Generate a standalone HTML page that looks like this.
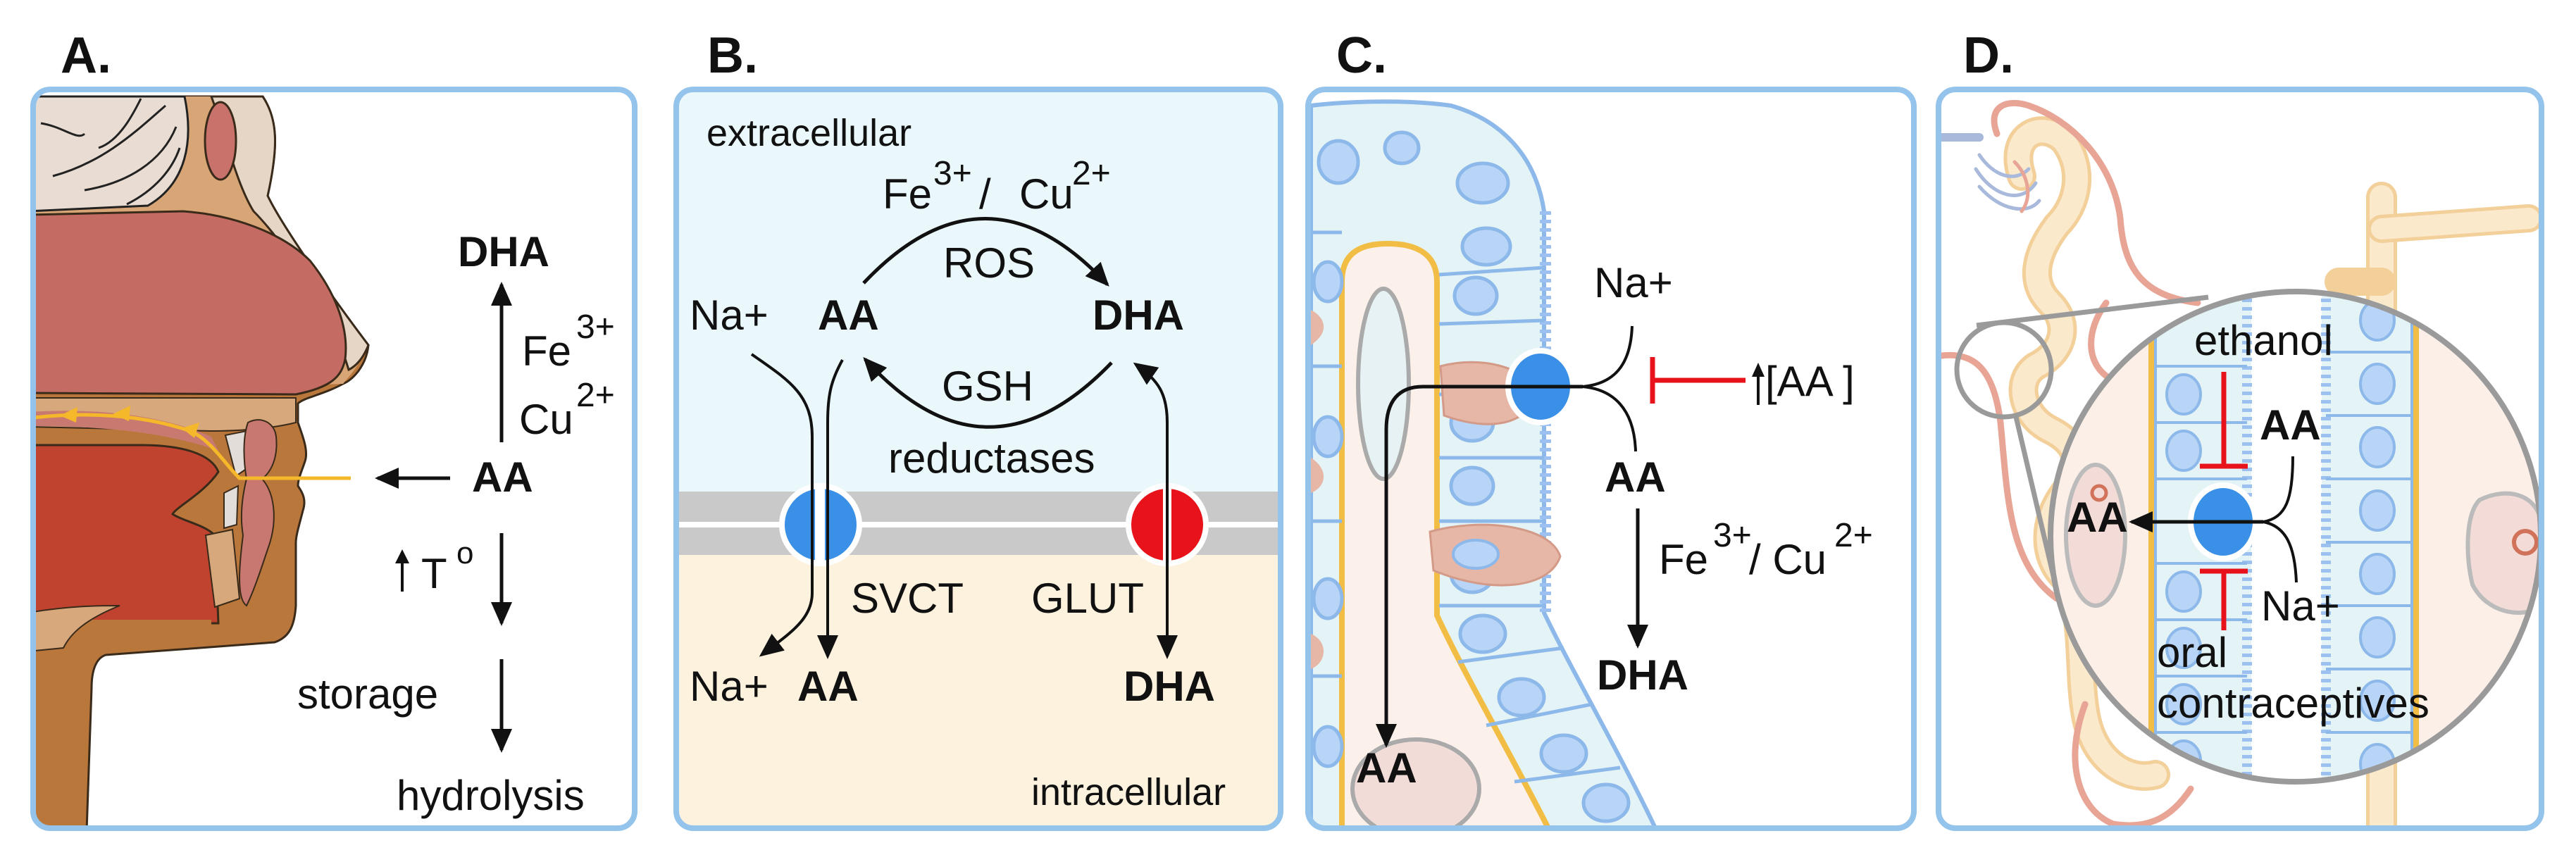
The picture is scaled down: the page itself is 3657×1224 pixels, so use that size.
<!DOCTYPE html>
<html><head><meta charset="utf-8"><style>
html,body{margin:0;padding:0;background:#fff}
svg{display:block}
text{font-family:"Liberation Sans",Arial,sans-serif;fill:#111}
.b{font-weight:bold}
</style></head><body>
<svg width="3657" height="1224" viewBox="0 0 3657 1224" xmlns="http://www.w3.org/2000/svg">
<defs>
<marker id="ah" markerUnits="userSpaceOnUse" markerWidth="34" markerHeight="30" refX="30" refY="15" orient="auto"><path d="M0,0 L34,15 L0,30 Z" fill="#111"/></marker>
<marker id="ahs" markerUnits="userSpaceOnUse" markerWidth="34" markerHeight="30" refX="4" refY="15" orient="auto"><path d="M34,0 L0,15 L34,30 Z" fill="#111"/></marker>
<clipPath id="cA"><rect x="47" y="127" width="854" height="1049" rx="22"/></clipPath>
<clipPath id="cC"><rect x="1861" y="127" width="852" height="1049" rx="22"/></clipPath>
<clipPath id="cD"><rect x="2756" y="127" width="848" height="1049" rx="22"/></clipPath>
<clipPath id="cir"><circle cx="3259" cy="762" r="348"/></clipPath>
</defs>

<!-- labels -->
<text x="86" y="103" class="b" font-size="72">A.</text>
<text x="1004" y="103" class="b" font-size="72">B.</text>
<text x="1897" y="103" class="b" font-size="72">C.</text>
<text x="2787" y="103" class="b" font-size="72">D.</text>

<!-- ===== Panel A ===== -->
<g clip-path="url(#cA)">
<path d="M40,137 L373,137 C395,170 395,210 380,278 C400,320 470,420 523,490 C520,520 500,540 487,545 C460,560 430,565 423,573 L423,600 C430,620 438,640 433,655 C428,670 423,680 423,690 C430,700 435,710 430,725 C425,745 420,760 420,771 L420,860 C418,890 410,905 390,912 L150,930 C135,935 130,955 130,977 L123,1180 L40,1180 Z" fill="#b9773c" stroke="#3a2a1a" stroke-width="3"/>
<path d="M40,137 L373,137 C395,170 395,210 380,278 C400,320 470,420 523,490 C510,520 495,535 487,545 L40,560 Z" fill="#d8a576"/>
<path d="M300,137 L373,137 C395,170 395,210 380,278 C400,320 470,420 523,490 C515,510 505,520 495,525 C470,440 400,340 360,300 C335,260 320,190 300,137 Z" fill="#e6d6c6" stroke="#3a2a1a" stroke-width="3"/>
<path d="M40,137 L262,137 C275,200 265,260 210,292 L40,300 Z" fill="#e9ddd3" stroke="#222" stroke-width="3"/>
<path d="M58,175 C90,180 110,200 120,190 M75,250 C150,230 200,180 235,150 M140,210 C170,200 190,160 200,140 M120,270 C180,260 230,230 250,180 M180,290 C220,270 245,240 255,210" stroke="#222" stroke-width="3" fill="none"/>
<ellipse cx="313" cy="200" rx="22" ry="55" fill="#c9726c" stroke="#3a2a1a" stroke-width="3"/>
<path d="M40,305 L260,300 C330,305 400,330 440,370 C480,420 495,470 490,510 C485,535 470,550 420,560 L40,558 Z" fill="#c46b64" stroke="#3a2a1a" stroke-width="3"/>
<path d="M40,565 L420,565 L420,600 C380,610 330,612 300,612 L40,606 Z" fill="#d6a87c" stroke="#3a2a1a" stroke-width="2"/>
<path d="M40,585 C120,580 220,585 300,620 L310,640 C230,612 140,605 40,605 Z" fill="#c87a70"/>
<path d="M40,632 L200,632 C260,632 300,645 310,670 C290,700 250,720 245,730 C260,740 290,745 305,760 L310,885 L40,885 Z" fill="#c0432f" stroke="#3a2a1a" stroke-width="3"/>
<path d="M40,880 L300,880 L300,900 L110,920 L70,960 L40,940 Z" fill="#b9773c"/>
<path d="M40,870 C100,860 140,860 170,860 C120,880 100,900 90,920 L40,925 Z" fill="#d6a87c" stroke="#3a2a1a" stroke-width="2"/>
<path d="M320,618 L350,612 L358,660 L335,676 Z" fill="#e2ddd8" stroke="#3a2a1a" stroke-width="2"/>
<path d="M318,700 L338,690 L336,745 L318,750 Z" fill="#e2ddd8" stroke="#3a2a1a" stroke-width="2"/>
<path d="M292,760 L330,752 L340,850 L305,862 Z" fill="#d6a87c" stroke="#3a2a1a" stroke-width="2"/>
<path d="M352,600 C370,590 390,600 392,620 C395,650 385,670 372,680 C390,700 395,740 380,780 C370,810 360,840 350,860 C335,850 340,800 345,760 C340,730 345,700 350,680 C345,650 345,620 352,600 Z" fill="#c87870" stroke="#3a2a1a" stroke-width="2"/>
<path d="M47,593 C120,585 200,588 270,612 C300,625 320,660 340,679 L498,679" stroke="#f5b82a" stroke-width="5" fill="none"/>
<path d="M85,590 L110,578 L108,600 Z M160,588 L185,576 L183,598 Z M258,608 L283,600 L276,622 Z" fill="#f5b82a"/>
</g>
<rect x="47" y="127" width="854" height="1049" rx="24" fill="none" stroke="#94c4ec" stroke-width="8"/>

<text x="650" y="378" class="b" font-size="60">DHA</text>
<line x1="712" y1="628" x2="712" y2="404" stroke="#111" stroke-width="5" marker-end="url(#ah)"/>
<text x="741" y="519" font-size="60">Fe</text><text x="818" y="480" font-size="48">3+</text>
<text x="737" y="616" font-size="60">Cu</text><text x="818" y="577" font-size="48">2+</text>
<line x1="639" y1="679" x2="536" y2="679" stroke="#111" stroke-width="5" marker-end="url(#ah)"/>
<text x="670" y="698" class="b" font-size="60">AA</text>
<line x1="712" y1="757" x2="712" y2="885" stroke="#111" stroke-width="5" marker-end="url(#ah)"/>
<line x1="571" y1="840" x2="571" y2="795" stroke="#111" stroke-width="4"/>
<path d="M561,800 L571,780 L581,800 Z" fill="#111"/>
<text x="598" y="835" font-size="60">T</text><text x="648" y="800" font-size="44">o</text>
<text x="422" y="1006" font-size="60">storage</text>
<line x1="712" y1="936" x2="712" y2="1065" stroke="#111" stroke-width="5" marker-end="url(#ah)"/>
<text x="563" y="1150" font-size="60">hydrolysis</text>

<!-- ===== Panel B ===== -->
<rect x="964" y="127" width="850" height="1049" rx="22" fill="#eaf8fc"/>
<path d="M964,698 L1814,698 L1814,1154 Q1814,1176 1792,1176 L986,1176 Q964,1176 964,1154 Z" fill="#fdf2de"/>
<rect x="964" y="698" width="850" height="90" fill="#c9c9c9"/>
<rect x="964" y="741" width="850" height="8" fill="#fff"/>
<rect x="960" y="127" width="858" height="1049" rx="24" fill="none" stroke="#94c4ec" stroke-width="8"/>
<circle cx="1165" cy="745" r="55" fill="#3a8fe6" stroke="#fff" stroke-width="8"/>
<rect x="1157" y="690" width="14" height="110" fill="#fff"/>
<circle cx="1657" cy="745" r="55" fill="#e8131a" stroke="#fff" stroke-width="8"/>
<rect x="1651" y="690" width="12" height="110" fill="#fff"/>

<text x="1003" y="207" font-size="54">extracellular</text>
<text x="1253" y="296" font-size="60">Fe</text><text x="1325" y="262" font-size="48">3+</text>
<text x="1390" y="296" font-size="60">/</text><text x="1447" y="296" font-size="60">Cu</text><text x="1522" y="262" font-size="48">2+</text>
<path d="M1226,402 Q1400,218 1572,404" stroke="#111" stroke-width="5" fill="none" marker-end="url(#ah)"/>
<text x="1404" y="394" font-size="60" text-anchor="middle">ROS</text>
<text x="979" y="468" font-size="60">Na+</text>
<text x="1161" y="468" class="b" font-size="60">AA</text>
<text x="1551" y="468" class="b" font-size="60">DHA</text>
<path d="M1578,515 Q1400,700 1228,510" stroke="#111" stroke-width="5" fill="none" marker-end="url(#ah)"/>
<text x="1402" y="569" font-size="60" text-anchor="middle">GSH</text>
<text x="1261" y="671" font-size="60">reductases</text>
<path d="M1067,503 C1120,540 1153,560 1153,620 L1153,842 C1153,880 1120,900 1081,930" stroke="#111" stroke-width="4" fill="none" marker-end="url(#ah)"/>
<path d="M1196,511 C1180,540 1175,560 1175,600 L1175,932" stroke="#111" stroke-width="4" fill="none" marker-end="url(#ah)"/>
<path d="M1657,932 L1657,600 C1657,560 1645,540 1612,517" stroke="#111" stroke-width="4" fill="none" marker-end="url(#ah)" marker-start="url(#ahs)"/>
<text x="1208" y="870" font-size="60">SVCT</text>
<text x="1464" y="870" font-size="60">GLUT</text>
<text x="979" y="995" font-size="60">Na+</text>
<text x="1132" y="995" class="b" font-size="60">AA</text>
<text x="1595" y="995" class="b" font-size="60">DHA</text>
<text x="1464" y="1143" font-size="54">intracellular</text>

<!-- ===== Panel C ===== -->
<g clip-path="url(#cC)">
<path d="M1861,150 C1900,145 1990,140 2060,150 C2130,170 2180,220 2192,300 L2192,870 C2230,950 2300,1070 2352,1180 L1861,1180 Z" fill="#e4f3f6" stroke="#8db8ea" stroke-width="6"/>
<line x1="2194" y1="300" x2="2194" y2="870" stroke="#9cc0ef" stroke-width="16" stroke-dasharray="5 7"/>
<path d="M1905,1180 L1905,400 C1905,360 1930,346 1970,346 C2010,346 2040,360 2040,400 L2040,874 C2080,960 2150,1080 2200,1180 Z" fill="#fbf0ea" stroke="#f2bd45" stroke-width="8"/>
<g fill="#b8d4f6" stroke="#8db8ea" stroke-width="5">
<ellipse cx="2105" cy="260" rx="36" ry="28"/><ellipse cx="2110" cy="350" rx="34" ry="26"/><ellipse cx="2095" cy="420" rx="30" ry="26"/>
<ellipse cx="2090" cy="600" rx="30" ry="26"/><ellipse cx="2090" cy="690" rx="30" ry="26"/><ellipse cx="2090" cy="815" rx="30" ry="26"/>
<ellipse cx="2105" cy="900" rx="32" ry="26"/><ellipse cx="2160" cy="990" rx="32" ry="26"/><ellipse cx="2220" cy="1070" rx="32" ry="26"/>
<ellipse cx="2280" cy="1140" rx="32" ry="26"/><ellipse cx="1900" cy="230" rx="28" ry="30"/><ellipse cx="1990" cy="210" rx="24" ry="22"/>
<ellipse cx="1885" cy="400" rx="20" ry="28"/><ellipse cx="1885" cy="620" rx="20" ry="28"/><ellipse cx="1885" cy="850" rx="20" ry="28"/><ellipse cx="1885" cy="1060" rx="20" ry="28"/>
</g>
<g stroke="#8db8ea" stroke-width="5">
<line x1="2043" y1="390" x2="2192" y2="380"/><line x1="2043" y1="460" x2="2192" y2="455"/><line x1="2043" y1="560" x2="2192" y2="560"/>
<line x1="2043" y1="650" x2="2192" y2="650"/><line x1="2043" y1="740" x2="2192" y2="740"/><line x1="2043" y1="860" x2="2192" y2="860"/>
<line x1="2070" y1="940" x2="2220" y2="920"/><line x1="2110" y1="1030" x2="2260" y2="1000"/><line x1="2150" y1="1110" x2="2300" y2="1090"/>
<line x1="1861" y1="330" x2="1905" y2="330"/><line x1="1861" y1="520" x2="1905" y2="520"/><line x1="1861" y1="740" x2="1905" y2="740"/><line x1="1861" y1="960" x2="1905" y2="960"/>
</g>
<ellipse cx="1964" cy="545" rx="36" ry="135" fill="#e6f2f4" stroke="#aaa" stroke-width="6"/>
<path d="M2045,520 C2100,505 2170,520 2180,560 C2170,600 2120,615 2050,590 Z" fill="#e6b6a6" stroke="#d49a88" stroke-width="3"/>
<path d="M2030,755 C2100,735 2200,745 2215,790 C2200,835 2120,845 2035,810 Z" fill="#e6b6a6" stroke="#d49a88" stroke-width="3"/>
<ellipse cx="2095" cy="787" rx="32" ry="20" fill="#b8d4f6" stroke="#8db8ea" stroke-width="4"/>
<ellipse cx="2010" cy="1120" rx="90" ry="70" fill="#f2dcd8" stroke="#aaa" stroke-width="6"/>
<path d="M1861,440 C1880,450 1890,470 1861,490 Z M1861,650 C1885,665 1885,690 1861,700 Z M1861,900 C1885,910 1885,940 1861,950 Z" fill="#e6b6a6"/>
</g>
<rect x="1857" y="127" width="860" height="1049" rx="24" fill="none" stroke="#94c4ec" stroke-width="8"/>
<ellipse cx="2187" cy="549" rx="46" ry="51" fill="#3a8fe6" stroke="#fff" stroke-width="8"/>
<path d="M2317,463 C2315,520 2290,545 2247,549 C2290,553 2320,580 2322,641" stroke="#111" stroke-width="4" fill="none"/>
<path d="M2247,549 L2020,549 C1985,549 1968,570 1968,610 L1968,1058" stroke="#111" stroke-width="5" fill="none" marker-end="url(#ah)"/>
<text x="2263" y="422" font-size="60">Na+</text>
<line x1="2346" y1="507" x2="2346" y2="573" stroke="#e8131a" stroke-width="7"/>
<line x1="2346" y1="540" x2="2478" y2="540" stroke="#e8131a" stroke-width="7"/>
<line x1="2496" y1="575" x2="2496" y2="530" stroke="#111" stroke-width="4"/>
<path d="M2487,535 L2496,515 L2505,535 Z" fill="#111"/>
<text x="2506" y="562" font-size="60">[AA ]</text>
<text x="2278" y="698" class="b" font-size="60">AA</text>
<line x1="2325" y1="722" x2="2325" y2="917" stroke="#111" stroke-width="5" marker-end="url(#ah)"/>
<text x="2355" y="815" font-size="60">Fe</text><text x="2432" y="776" font-size="48">3+</text>
<text x="2483" y="815" font-size="60">/ Cu</text><text x="2604" y="776" font-size="48">2+</text>
<text x="2267" y="979" class="b" font-size="60">DHA</text>
<text x="1925" y="1111" class="b" font-size="60">AA</text>

<!-- ===== Panel D ===== -->
<g clip-path="url(#cD)">
<g fill="none" stroke-linecap="round">
<path d="M3381,280 L3381,1190" stroke="#f3cf9a" stroke-width="44"/>
<path d="M3381,280 L3381,1190" stroke="#fbe9cc" stroke-width="34"/>
<path d="M3381,325 L3590,310" stroke="#f3cf9a" stroke-width="40"/>
<path d="M3381,325 L3590,310" stroke="#fbe9cc" stroke-width="30"/>
<path d="M3320,400 L3381,400" stroke="#f3cf9a" stroke-width="40"/>
<path d="M2870,250 C2850,190 2900,170 2930,200 C2960,240 2950,290 2920,320 C2890,360 2880,400 2910,430 C2940,460 2930,500 2890,520 C2860,540 2870,590 2910,610 C2950,630 2960,660 2930,700 C2900,740 2900,790 2930,820 C2960,860 2950,950 2960,1010 C2970,1080 3020,1110 3060,1100" stroke="#f3cf9a" stroke-width="42"/>
<path d="M2870,250 C2850,190 2900,170 2930,200 C2960,240 2950,290 2920,320 C2890,360 2880,400 2910,430 C2940,460 2930,500 2890,520 C2860,540 2870,590 2910,610 C2950,630 2960,660 2930,700 C2900,740 2900,790 2930,820 C2960,860 2950,950 2960,1010 C2970,1080 3020,1110 3060,1100" stroke="#fbe9cc" stroke-width="32"/>
<path d="M2835,190 C2820,150 2850,140 2880,150 C2940,170 3000,230 3010,310 C3015,380 3040,420 3120,430" stroke="#e8a596" stroke-width="9"/>
<path d="M2756,505 C2800,500 2830,520 2840,600 C2850,700 2850,800 2920,850" stroke="#e8a596" stroke-width="9"/>
<path d="M2990,430 C2960,470 2960,520 3000,540" stroke="#e8a596" stroke-width="9"/>
<path d="M2960,1000 C2930,1080 2950,1150 3000,1170 C3060,1180 3090,1150 3110,1120" stroke="#e8a596" stroke-width="9"/>
<path d="M2756,195 L2810,195" stroke="#a9b9db" stroke-width="12"/>
<path d="M2810,220 C2830,250 2860,260 2880,240 M2805,240 C2830,280 2870,290 2890,260 M2810,265 C2840,300 2880,305 2895,285" stroke="#a9b9db" stroke-width="5"/>
<path d="M2860,230 C2880,250 2885,280 2870,300" stroke="#e8a596" stroke-width="5"/>
</g>
<line x1="2806" y1="462" x2="3135" y2="422" stroke="#9a9a9a" stroke-width="7"/>
<line x1="2862" y1="592" x2="2925" y2="860" stroke="#9a9a9a" stroke-width="7"/>
<circle cx="2845" cy="525" r="67" fill="none" stroke="#9a9a9a" stroke-width="7"/>
<g clip-path="url(#cir)">
<rect x="2900" y="400" width="720" height="720" fill="#fbefe8"/>
<rect x="3060" y="400" width="136" height="720" fill="#e4f3f6"/>
<rect x="3196" y="400" width="100" height="720" fill="#fff"/>
<rect x="3296" y="400" width="128" height="720" fill="#e4f3f6"/>
<line x1="3190" y1="400" x2="3190" y2="1120" stroke="#9cc0ef" stroke-width="14" stroke-dasharray="5 7"/>
<line x1="3302" y1="400" x2="3302" y2="1120" stroke="#9cc0ef" stroke-width="14" stroke-dasharray="5 7"/>
<line x1="3060" y1="400" x2="3060" y2="1120" stroke="#8db8ea" stroke-width="4"/>
<line x1="3424" y1="400" x2="3424" y2="1120" stroke="#8db8ea" stroke-width="4"/>
<line x1="3054" y1="400" x2="3054" y2="1120" stroke="#f2bd45" stroke-width="8"/>
<line x1="3430" y1="400" x2="3430" y2="1120" stroke="#f2bd45" stroke-width="8"/>
<g stroke="#8db8ea" stroke-width="4">
<line x1="3060" y1="520" x2="3190" y2="520"/><line x1="3060" y1="600" x2="3190" y2="600"/><line x1="3060" y1="680" x2="3190" y2="680"/><line x1="3060" y1="800" x2="3190" y2="800"/><line x1="3060" y1="880" x2="3190" y2="880"/><line x1="3060" y1="960" x2="3190" y2="960"/><line x1="3060" y1="1040" x2="3190" y2="1040"/>
<line x1="3302" y1="500" x2="3424" y2="500"/><line x1="3302" y1="590" x2="3424" y2="590"/><line x1="3302" y1="680" x2="3424" y2="680"/><line x1="3302" y1="770" x2="3424" y2="770"/><line x1="3302" y1="860" x2="3424" y2="860"/><line x1="3302" y1="950" x2="3424" y2="950"/><line x1="3302" y1="1040" x2="3424" y2="1040"/>
</g>
<g fill="#b8d4f6" stroke="#8db8ea" stroke-width="4">
<ellipse cx="3100" cy="560" rx="24" ry="28"/><ellipse cx="3100" cy="640" rx="24" ry="28"/><ellipse cx="3100" cy="840" rx="24" ry="28"/><ellipse cx="3100" cy="920" rx="24" ry="28"/><ellipse cx="3100" cy="1000" rx="24" ry="28"/><ellipse cx="3100" cy="1080" rx="24" ry="28"/>
<ellipse cx="3375" cy="455" rx="24" ry="28"/><ellipse cx="3375" cy="545" rx="24" ry="28"/><ellipse cx="3375" cy="635" rx="24" ry="28"/><ellipse cx="3375" cy="725" rx="24" ry="28"/><ellipse cx="3375" cy="815" rx="24" ry="28"/><ellipse cx="3375" cy="905" rx="24" ry="28"/><ellipse cx="3375" cy="995" rx="24" ry="28"/><ellipse cx="3375" cy="1085" rx="24" ry="28"/>
</g>
<ellipse cx="2975" cy="760" rx="42" ry="100" fill="#f3dcd8" stroke="#bbb" stroke-width="6"/>
<circle cx="2980" cy="700" r="10" fill="none" stroke="#d0735a" stroke-width="5"/>
<path d="M3520,710 C3560,690 3610,700 3610,760 L3610,860 C3580,880 3530,870 3510,830 C3500,790 3500,730 3520,710 Z" fill="#f3dcd8" stroke="#bbb" stroke-width="6"/>
<circle cx="3585" cy="770" r="16" fill="none" stroke="#d0735a" stroke-width="6"/>
</g>
<circle cx="3259" cy="762" r="348" fill="none" stroke="#9a9a9a" stroke-width="8"/>
</g>
<rect x="2752" y="127" width="856" height="1049" rx="24" fill="none" stroke="#94c4ec" stroke-width="8"/>

<text x="3115" y="504" font-size="60">ethanol</text>
<line x1="3157" y1="528" x2="3157" y2="662" stroke="#e8131a" stroke-width="7"/>
<line x1="3123" y1="662" x2="3191" y2="662" stroke="#e8131a" stroke-width="7"/>
<text x="3208" y="624" class="b" font-size="60">AA</text>
<ellipse cx="3156" cy="741" rx="46" ry="52" fill="#3a8fe6" stroke="#fff" stroke-width="8"/>
<path d="M3255,648 C3255,710 3245,735 3213,741 C3245,747 3258,775 3260,827" stroke="#111" stroke-width="4" fill="none"/>
<line x1="3213" y1="741" x2="3026" y2="741" stroke="#111" stroke-width="5" marker-end="url(#ah)"/>
<text x="2934" y="755" class="b" font-size="60">AA</text>
<line x1="3123" y1="811" x2="3191" y2="811" stroke="#e8131a" stroke-width="7"/>
<line x1="3157" y1="811" x2="3157" y2="895" stroke="#e8131a" stroke-width="7"/>
<text x="3210" y="881" font-size="60">Na+</text>
<text x="3062" y="947" font-size="60">oral</text>
<text x="3062" y="1019" font-size="60">contraceptives</text>
</svg>
</body></html>
